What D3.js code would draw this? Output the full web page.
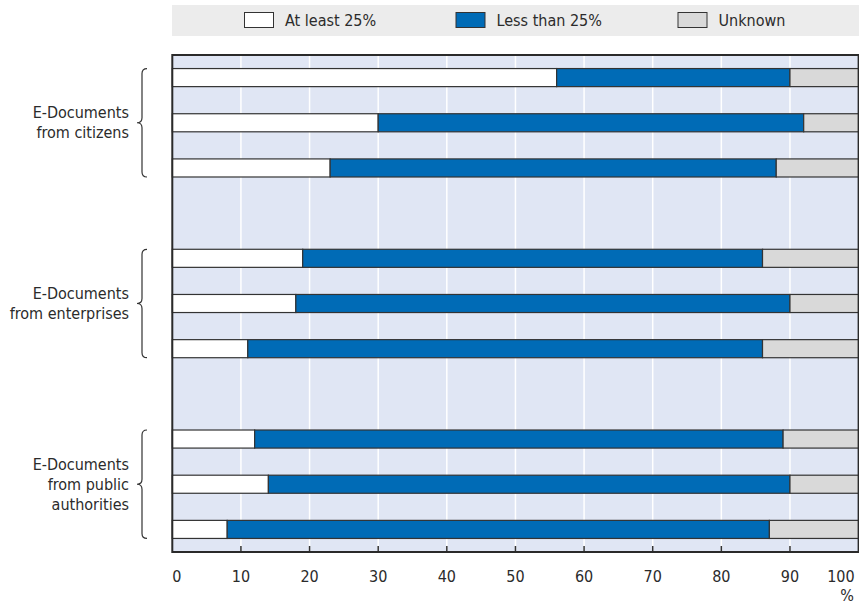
<!DOCTYPE html>
<html>
<head>
<meta charset="utf-8">
<script src="https://cdn.jsdelivr.net/npm/d3@7"></script>
<style>
  html, body { margin: 0; padding: 0; background: #ffffff; }
  svg { display: block; font-family: "DejaVu Sans Condensed", "Liberation Sans", Arial, sans-serif; font-stretch: condensed; }
</style>
</head>
<body>
<svg id="chart" width="859" height="605"></svg>
<script>
// ---- data ----
const groupLabels = [
  ["E-Documents", "from citizens"],
  ["E-Documents", "from enterprises"],
  ["E-Documents", "from public", "authorities"]
];
const barsPerGroup = 3;
const seriesNames = ["At least 25%", "Less than 25%", "Unknown"];
const atLeast25  = [56, 30, 23, 19, 18, 11, 12, 14, 8];
const lessThan25 = [34, 62, 65, 67, 72, 75, 77, 76, 79];
const unknown    = [10,  8, 12, 14, 10, 14, 11, 10, 13];
const xTicks = [0, 10, 20, 30, 40, 50, 60, 70, 80, 90, 100];

const colors = ["#ffffff", "#006bb6", "#d9d9d9"];

// ---- layout ----
const svg = d3.select("#chart");
const plot = { left: 172.3, right: 858.6, top: 55, bottom: 552 };
const fs = 16;

const rows = atLeast25.map((v, i) => ({
  slot: Math.floor(i / barsPerGroup) * (barsPerGroup + 1) + (i % barsPerGroup),
  "At least 25%": v,
  "Less than 25%": lessThan25[i],
  "Unknown": unknown[i]
}));
const nSlots = groupLabels.length * (barsPerGroup + 1) - 1;

const x = d3.scaleLinear().domain([0, 100]).range([plot.left, plot.right]);
const y = d3.scaleBand().domain(d3.range(nSlots)).range([plot.top, plot.bottom])
  .paddingInner(0.6).paddingOuter(0.3);

// legend band
svg.append("rect").attr("x", 172).attr("y", 5).attr("width", 687).attr("height", 31)
  .attr("fill", "#ececec");
const legendPos = [244, 455.5, 677.5];
seriesNames.forEach((s, i) => {
  const g = svg.append("g").attr("transform", `translate(${legendPos[i]},12)`);
  g.append("rect").attr("x", 0.5).attr("y", 0.5).attr("width", 29).attr("height", 15)
    .attr("fill", colors[i]).attr("stroke", "#333").attr("stroke-width", 1);
  g.append("text").attr("x", 41).attr("y", 8.5).attr("dy", "0.35em")
    .attr("font-size", fs).attr("fill", "#2b2b2b").text(s);
});

// plot background
svg.append("rect").attr("x", plot.left).attr("y", plot.top)
  .attr("width", plot.right - plot.left).attr("height", plot.bottom - plot.top)
  .attr("fill", "#e0e6f4");

// grid
svg.append("g").selectAll("line").data(xTicks.slice(1, -1)).join("line")
  .attr("x1", d => x(d)).attr("x2", d => x(d))
  .attr("y1", plot.top).attr("y2", plot.bottom)
  .attr("stroke", "#ffffff").attr("stroke-width", 1.5);

// bars
const stack = d3.stack().keys(seriesNames)(rows);
svg.append("g").selectAll("g").data(stack).join("g")
  .attr("fill", (d, i) => colors[i])
  .selectAll("rect").data(d => d).join("rect")
  .attr("x", d => x(d[0]))
  .attr("width", d => x(d[1]) - x(d[0]))
  .attr("y", d => y(d.data.slot))
  .attr("height", y.bandwidth())
  .attr("stroke", "#333").attr("stroke-width", 1.2);

// bottom ticks inside
svg.append("g").selectAll("line").data(xTicks.slice(1, -1)).join("line")
  .attr("x1", d => x(d)).attr("x2", d => x(d))
  .attr("y1", plot.bottom - 6).attr("y2", plot.bottom)
  .attr("stroke", "#333").attr("stroke-width", 1.5);

// frame
svg.append("rect").attr("x", plot.left).attr("y", plot.top)
  .attr("width", plot.right - plot.left).attr("height", plot.bottom - plot.top)
  .attr("fill", "none").attr("stroke", "#2a2a2a").attr("stroke-width", 2);

// x tick labels
svg.append("g").selectAll("text").data(xTicks).join("text")
  .attr("x", d => d === 0 ? x(d) + 0 : d === 100 ? x(d) - 4 : x(d))
  .attr("y", 576).attr("dy", "0.35em")
  .attr("text-anchor", d => d === 0 ? "start" : d === 100 ? "end" : "middle")
  .attr("font-size", fs).attr("fill", "#2b2b2b").text(d => d);
svg.append("text").attr("x", 854).attr("y", 595).attr("dy", "0.35em")
  .attr("text-anchor", "end").attr("font-size", fs).attr("fill", "#2b2b2b").text("%");

// group braces and labels
groupLabels.forEach((lines, g) => {
  const first = g * (barsPerGroup + 1);
  const last = first + barsPerGroup - 1;
  const y0 = y(first), y1 = y(last) + y.bandwidth();
  const ym = (y0 + y1) / 2;
  const bx = 142, r = 5;
  const p = d3.path();
  p.moveTo(bx + r, y0);
  p.quadraticCurveTo(bx, y0, bx, y0 + r);
  p.lineTo(bx, ym - r);
  p.quadraticCurveTo(bx, ym, bx - r, ym);
  p.quadraticCurveTo(bx, ym, bx, ym + r);
  p.lineTo(bx, y1 - r);
  p.quadraticCurveTo(bx, y1, bx + r, y1);
  svg.append("path").attr("d", p.toString()).attr("fill", "none")
    .attr("stroke", "#333").attr("stroke-width", 1.2);
  const lh = 20;
  const t = svg.append("text").attr("text-anchor", "end").attr("font-size", fs).attr("fill", "#2b2b2b");
  lines.forEach((ln, k) => {
    t.append("tspan").attr("x", 129)
      .attr("y", ym + (k - (lines.length - 1) / 2) * lh)
      .attr("dy", "0.35em").text(ln);
  });
});
</script>
</body>
</html>
